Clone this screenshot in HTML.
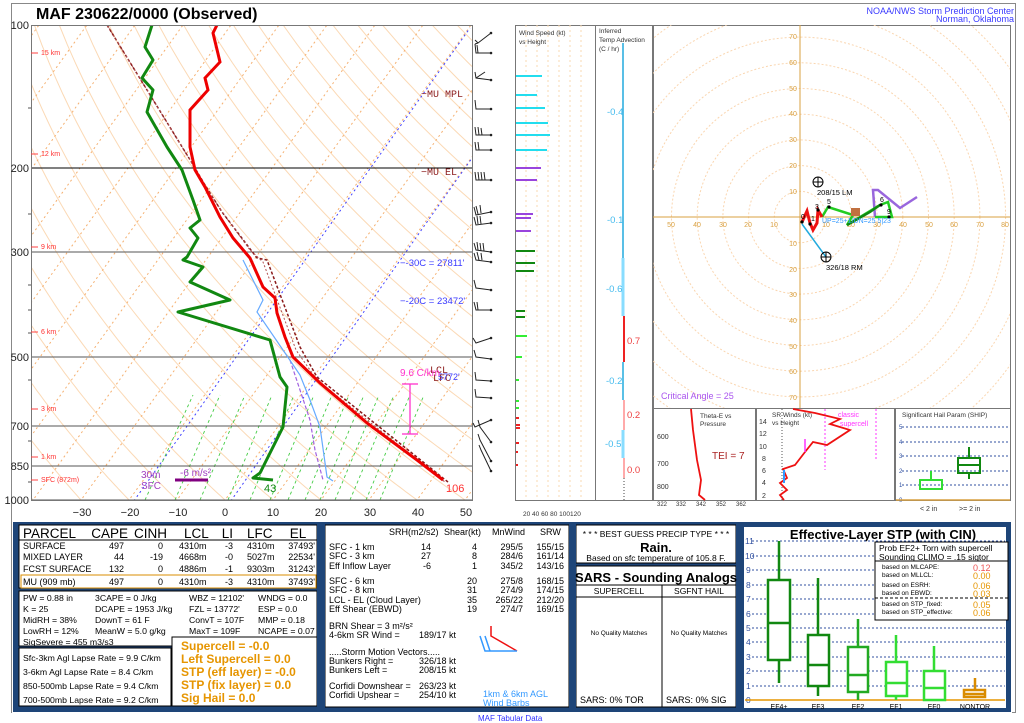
<!DOCTYPE html>
<html><head><meta charset="utf-8"><style>
html,body{margin:0;padding:0;background:#fff;width:1024px;height:723px;overflow:hidden}
svg{display:block;font-family:"Liberation Sans",Arial,sans-serif}
</style></head><body>
<svg id="s" width="1024" height="723" viewBox="0 0 1024 723" xmlns="http://www.w3.org/2000/svg">
<defs>
<clipPath id="skc"><rect x="31" y="25" width="441" height="475"/></clipPath>
<clipPath id="hc"><rect x="653" y="25" width="357" height="383"/></clipPath>
</defs>
<rect x="0" y="0" width="1024" height="723" fill="#fff"/>
<rect x="11.5" y="3.5" width="1004" height="709" fill="none" stroke="#888" stroke-width="1"/>
<text x="36" y="19" font-size="16" font-weight="bold">MAF   230622/0000  (Observed)</text>
<text x="1014" y="14" font-size="9" fill="#3a3aff" text-anchor="end">NOAA/NWS Storm Prediction Center</text>
<text x="1014" y="22" font-size="9" fill="#3a3aff" text-anchor="end">Norman, Oklahoma</text>

<g id="skbg" clip-path="url(#skc)"></g>
<g clip-path="url(#skc)" fill="none">
<line x1="131" y1="505" x2="470" y2="28" stroke="#4040ff" stroke-dasharray="2,3"/>
<line x1="228" y1="505" x2="472" y2="158" stroke="#4040ff" stroke-dasharray="2,3"/>
<g stroke="#44cc44" stroke-dasharray="3,3" stroke-width="0.9">
<line x1="145" y1="500" x2="193" y2="395"/><line x1="175" y1="500" x2="220" y2="395"/>
<line x1="200" y1="500" x2="245" y2="395"/><line x1="228" y1="500" x2="272" y2="395"/>
<line x1="250" y1="500" x2="294" y2="395"/><line x1="270" y1="500" x2="314" y2="395"/>
<line x1="288" y1="500" x2="332" y2="395"/><line x1="305" y1="500" x2="349" y2="395"/>
<line x1="320" y1="500" x2="364" y2="395"/><line x1="335" y1="500" x2="379" y2="395"/>
<line x1="350" y1="500" x2="394" y2="395"/><line x1="366" y1="500" x2="410" y2="395"/>
<line x1="380" y1="500" x2="424" y2="395"/>
</g>
<g stroke="#000" stroke-width="1">
<line x1="31" y1="168" x2="472" y2="168"/><line x1="31" y1="252" x2="472" y2="252" stroke="#555"/>
<line x1="31" y1="357" x2="472" y2="357" stroke="#555"/><line x1="31" y1="426" x2="472" y2="426" stroke="#555"/>
<line x1="31" y1="466" x2="472" y2="466" stroke="#555"/><line x1="31" y1="500" x2="472" y2="500" stroke="#555"/>
</g>
<polyline points="107,25 192,163 205,185 222,212 257,258 267,260 300,347 317,377 448,482" stroke="#8b1a1a" stroke-width="1.5" stroke-dasharray="3,2"/>
<polyline points="107,25 190,160 205,186 225,216 250,250 263,262 296,350 317,380 445,482" stroke="#b05050" stroke-width="1" stroke-dasharray="2,2"/>
<polyline points="290,360 300,390 310,420 315,450 323,480" stroke="#a060e0" stroke-width="1.2" stroke-dasharray="4,2"/>
<polyline points="243,260 263,300 257,312 283,350 300,375 310,400 320,427 327,477 333,481" stroke="#66aaff" stroke-width="1.2"/>
<polyline points="217,25 213,33 220,62 205,78 208,90 190,110 190,127 190,147 195,170 205,187 220,217 233,238 250,258 263,287 275,298 277,313 285,337 293,357 320,383 367,423 417,460 443,480" stroke="#3060ff" stroke-width="1"/>
<polyline points="217,25 213,33 220,62 205,78 208,90 190,110 190,127 190,147 195,170 205,187 220,217 233,238 250,258 263,287 275,298 277,313 285,337 293,357 320,383 367,423 417,460 443,480" stroke="#ee0000" stroke-width="3"/>
<polyline points="152,25 145,47 153,60 142,78 153,90 147,112 167,147 182,170 193,200 200,220 190,228 198,238 187,257 183,260 203,267 190,282 230,300 178,312 270,340 280,377 287,387 283,427 260,473 253,478 273,480" stroke="#118811" stroke-width="3" stroke-linejoin="round"/>
</g>
<rect x="31.5" y="25.5" width="441" height="475" fill="none" stroke="#777"/>
<g font-size="11" text-anchor="end" fill="#222">
<text x="29" y="29">100</text><text x="29" y="172">200</text><text x="29" y="256">300</text>
<text x="29" y="361">500</text><text x="29" y="430">700</text><text x="29" y="470">850</text><text x="29" y="504">1000</text>
</g>
<g stroke="#555"><line x1="28" y1="108" x2="31" y2="108"/><line x1="28" y1="214" x2="31" y2="214"/><line x1="28" y1="285" x2="31" y2="285"/><line x1="28" y1="310" x2="31" y2="310"/><line x1="28" y1="333" x2="31" y2="333"/><line x1="28" y1="380" x2="31" y2="380"/><line x1="28" y1="441" x2="31" y2="441"/><line x1="28" y1="482" x2="31" y2="482"/></g>
<g font-size="11" text-anchor="middle" fill="#222">
<text x="82" y="516">−30</text><text x="130" y="516">−20</text><text x="178" y="516">−10</text><text x="225" y="516">0</text>
<text x="273" y="516">10</text><text x="321" y="516">20</text><text x="370" y="516">30</text><text x="418" y="516">40</text><text x="466" y="516">50</text>
</g>
<g font-size="7" fill="#ff3030">
<line x1="31" y1="53" x2="38" y2="53" stroke="#ff4040"/><text x="41" y="55">15 km</text>
<line x1="31" y1="154" x2="38" y2="154" stroke="#ff4040"/><text x="41" y="156">12 km</text>
<line x1="31" y1="247" x2="38" y2="247" stroke="#ff4040"/><text x="41" y="249">9 km</text>
<line x1="31" y1="332" x2="38" y2="332" stroke="#ff4040"/><text x="41" y="334">6 km</text>
<line x1="31" y1="409" x2="38" y2="409" stroke="#ff4040"/><text x="41" y="411">3 km</text>
<line x1="31" y1="457" x2="38" y2="457" stroke="#ff4040"/><text x="41" y="459">1 km</text>
<line x1="31" y1="480" x2="38" y2="480" stroke="#ff4040"/><text x="41" y="482">SFC (872m)</text>
</g>
<g font-family="Liberation Mono,monospace" font-size="10" fill="#8b1a1a">
<text x="421" y="97">−MU MPL</text><text x="421" y="175">−MU EL</text><text x="430" y="373">LCL</text><text x="433" y="381">LFC</text>
</g>
<g font-size="9.5" fill="#3a3aff"><text x="400" y="266">−-30C = 27811'</text><text x="400" y="304">−-20C = 23472'</text><text x="438" y="380" font-size="9">5772'</text></g>
<text x="400" y="376" font-size="10" fill="#ff33cc">9.6 C/km</text>
<g stroke="#ff33cc" stroke-width="1.3"><line x1="410" y1="384" x2="410" y2="434"/><line x1="402" y1="384" x2="418" y2="384"/><line x1="402" y1="434" x2="418" y2="434"/></g>
<text x="141" y="478" font-size="10" fill="#a040c0">30m</text><text x="141" y="489" font-size="10" fill="#a040c0">SFC</text>
<text x="180" y="476" font-size="10" fill="#a040c0">-6 m/s²</text>
<line x1="175" y1="480" x2="208" y2="480" stroke="#800080" stroke-width="3"/>
<text x="264" y="492" font-size="11" fill="#118811">43</text>
<text x="446" y="492" font-size="11" fill="#ff3030">106</text>

<g stroke="#222" stroke-width="1" fill="none">
<path d="M491,33 L478,43 L475,40 M478,43 L475,44"/><path d="M491,53 L476,53 L475,44 M478,53 L477,45"/>
<path d="M491,80 L476,78 L475,72 M476,78 L485,72"/><path d="M491,109 L476,109 L475,100"/>
<path d="M491,135 L476,135 L475,127 M479,135 L478,127 M482,135 L481,128"/><path d="M491,150 L476,150 L475,142 M479,150 L478,142"/>
<path d="M491,180 L476,180 L475,172 M479,180 L478,172 M482,180 L481,172 M485,180 L484,172"/>
<path d="M491,212 L476,215 L474,207 M478,214 L476,206 M481,213 L480,205"/><path d="M491,223 L476,225 L474,217 M478,224 L477,216 M481,224 L480,216"/>
<path d="M491,252 L476,250 L474,243 M478,250 L477,242 M481,251 L480,243 M484,251 L483,243"/>
<path d="M491,262 L476,260 L474,253 M479,260 L477,252 M482,260 L481,253"/>
<path d="M491,290 L476,288 L474,280"/><path d="M491,310 L476,310 L474,302 M478,310 L477,302"/>
<path d="M491,338 L476,343 L473,338"/><path d="M491,359 L476,357 L474,350"/>
<path d="M491,381 L476,380 L475,372"/><path d="M491,398 L476,397 L475,389"/>
<path d="M491,420 L475,427 L473,423"/><path d="M491,442 L480,427 L478,420"/>
<path d="M491,461 L480,440 L478,434"/><path d="M491,471 L481,450 L479,445"/>
</g>
<g fill="#222"><circle cx="491" cy="33" r="1.3"/><circle cx="491" cy="53" r="1.3"/><circle cx="491" cy="80" r="1.3"/><circle cx="491" cy="109" r="1.3"/><circle cx="491" cy="135" r="1.3"/><circle cx="491" cy="150" r="1.3"/><circle cx="491" cy="180" r="1.3"/><circle cx="491" cy="212" r="1.3"/><circle cx="491" cy="223" r="1.3"/><circle cx="491" cy="252" r="1.3"/><circle cx="491" cy="262" r="1.3"/><circle cx="491" cy="290" r="1.3"/><circle cx="491" cy="310" r="1.3"/><circle cx="491" cy="338" r="1.3"/><circle cx="491" cy="359" r="1.3"/><circle cx="491" cy="381" r="1.3"/><circle cx="491" cy="398" r="1.3"/><circle cx="491" cy="420" r="1.3"/><circle cx="491" cy="442" r="1.3"/><circle cx="491" cy="461" r="1.3"/><circle cx="491" cy="471" r="1.3"/></g>

<rect x="515.5" y="25.5" width="80" height="475" fill="none" stroke="#777"/>
<g stroke="#f8d8b0" stroke-dasharray="2,3"><line x1="526" y1="25" x2="526" y2="500"/><line x1="537" y1="25" x2="537" y2="500"/><line x1="548" y1="25" x2="548" y2="500"/><line x1="559" y1="25" x2="559" y2="500"/><line x1="570" y1="25" x2="570" y2="500"/><line x1="581" y1="25" x2="581" y2="500"/></g>
<text x="519" y="35" font-size="6.5" fill="#333">Wind Speed (kt)</text><text x="519" y="44" font-size="6.5" fill="#333">vs Height</text>
<g stroke-width="2">
<g stroke="#22ddee"><line x1="516" y1="76" x2="542" y2="76"/><line x1="516" y1="95" x2="537" y2="95"/><line x1="516" y1="108" x2="545" y2="108"/><line x1="516" y1="123" x2="548" y2="123"/><line x1="516" y1="135" x2="550" y2="135"/><line x1="516" y1="150" x2="547" y2="150"/></g>
<g stroke="#9944dd"><line x1="516" y1="168" x2="541" y2="168"/><line x1="516" y1="180" x2="537" y2="180"/><line x1="516" y1="214" x2="533" y2="214"/><line x1="516" y1="218" x2="531" y2="218"/><line x1="516" y1="231" x2="531" y2="231"/></g>
<g stroke="#118811"><line x1="516" y1="251" x2="535" y2="251"/><line x1="516" y1="263" x2="535" y2="263"/><line x1="516" y1="271" x2="534" y2="271"/><line x1="516" y1="311" x2="525" y2="311"/><line x1="516" y1="317" x2="525" y2="317"/></g>
<g stroke="#33ee33"><line x1="516" y1="336" x2="527" y2="336"/><line x1="516" y1="357" x2="522" y2="357"/><line x1="516" y1="380" x2="519" y2="380"/><line x1="516" y1="401" x2="519" y2="401"/><line x1="516" y1="408" x2="519" y2="408"/></g>
<g stroke="#ee2222"><line x1="516" y1="418" x2="519" y2="418"/><line x1="516" y1="425" x2="520" y2="425"/><line x1="516" y1="428" x2="520" y2="428"/><line x1="516" y1="443" x2="519" y2="443"/><line x1="516" y1="452" x2="518" y2="452"/><line x1="516" y1="465" x2="518" y2="465"/></g>
</g>
<g font-size="6.5" fill="#333"><text x="523" y="516">20 40 60 80 100120</text></g>
<rect x="595.5" y="25.5" width="57" height="475" fill="none" stroke="#777"/>
<text x="599" y="33" font-size="6.5" fill="#333">Inferred</text><text x="599" y="42" font-size="6.5" fill="#333">Temp Advection</text><text x="599" y="51" font-size="6.5" fill="#333">(C / hr)</text>
<line x1="623" y1="43" x2="623" y2="258" stroke="#22aadd" stroke-width="1.5"/>
<line x1="623" y1="258" x2="623" y2="316" stroke="#88ddff" stroke-width="3"/>
<line x1="624" y1="316" x2="624" y2="362" stroke="#ee2222" stroke-width="2"/>
<line x1="623" y1="362" x2="623" y2="400" stroke="#22aadd" stroke-width="1.5"/>
<line x1="624" y1="400" x2="624" y2="430" stroke="#ffaaaa" stroke-width="2"/>
<line x1="623" y1="430" x2="623" y2="458" stroke="#88ddff" stroke-width="3"/>
<line x1="624" y1="458" x2="624" y2="478" stroke="#ffaaaa" stroke-width="2"/>
<line x1="624" y1="478" x2="624" y2="500" stroke="#444" stroke-dasharray="1,2"/>
<g font-size="9.5"><text x="607" y="115" fill="#44bbee">-0.4</text><text x="607" y="223" fill="#44bbee">-0.1</text><text x="606" y="292" fill="#44bbee">-0.6</text><text x="627" y="344" fill="#ee4444">0.7</text><text x="606" y="384" fill="#44bbee">-0.2</text><text x="627" y="418" fill="#ee4444">0.2</text><text x="605" y="447" fill="#44bbee">-0.5</text><text x="627" y="473" fill="#ee4444">0.0</text></g>

<rect x="653.5" y="25.5" width="357" height="475" fill="none" stroke="#777"/>
<g clip-path="url(#hc)" fill="none" stroke="#fad6b0" stroke-dasharray="2,2">
<circle cx="800" cy="217" r="25.7"/><circle cx="800" cy="217" r="51.4"/><circle cx="800" cy="217" r="77.1"/><circle cx="800" cy="217" r="102.8"/><circle cx="800" cy="217" r="128.5"/><circle cx="800" cy="217" r="154.2"/><circle cx="800" cy="217" r="179.9"/><circle cx="800" cy="217" r="205.6"/><circle cx="800" cy="217" r="231.3"/><circle cx="800" cy="217" r="257"/>
</g>
<g stroke="#d9a040"><line x1="800" y1="25" x2="800" y2="408"/><line x1="653" y1="217" x2="1010" y2="217"/></g>
<g font-size="7" fill="#d9a040" text-anchor="middle">
<text x="671" y="227">50</text><text x="697" y="227">40</text><text x="723" y="227">30</text><text x="748" y="227">20</text><text x="774" y="227">10</text>
<text x="826" y="227">10</text><text x="851" y="227">20</text><text x="877" y="227">30</text><text x="903" y="227">40</text><text x="929" y="227">50</text><text x="954" y="227">60</text><text x="980" y="227">70</text><text x="1005" y="227">80</text>
<text x="793" y="39">70</text><text x="793" y="65">60</text><text x="793" y="91">50</text><text x="793" y="116">40</text><text x="793" y="142">30</text><text x="793" y="168">20</text><text x="793" y="194">10</text>
<text x="793" y="246">10</text><text x="793" y="272">20</text><text x="793" y="297">30</text><text x="793" y="323">40</text><text x="793" y="349">50</text><text x="793" y="374">60</text><text x="793" y="400">70</text>
</g>
<line x1="802" y1="224" x2="826" y2="257" stroke="#22aadd" stroke-width="1.5"/>
<polyline points="875,217 873,190 878,190 900,208 917,197" fill="none" stroke="#9966dd" stroke-width="2.5"/>
<polyline points="822,217 828,207 853,215 847,225 880,205 888,202 892,217 875,217" fill="none" stroke="#22cc22" stroke-width="2.5"/>
<polyline points="847,225 870,212 880,205" fill="none" stroke="#118811" stroke-width="2.5"/>
<polyline points="802,222 807,211 810,223 813,230 817,223 818,210 822,217" fill="none" stroke="#ee1111" stroke-width="3"/>
<rect x="851" y="208" width="9" height="8" fill="#c07040"/>
<g fill="#000"><circle cx="818" cy="210" r="1.6"/><circle cx="829" cy="207" r="1.6"/><circle cx="810" cy="224" r="1.6"/><circle cx="881" cy="205" r="1.6"/><circle cx="889" cy="217" r="1.6"/><circle cx="802" cy="222" r="1.6"/></g>
<g font-size="7" fill="#000"><text x="801" y="219">0</text><text x="811" y="221">1</text><text x="815" y="209">3</text><text x="827" y="204">5</text><text x="880" y="202">6</text><text x="887" y="214">9</text></g>
<text x="822" y="223" font-size="7" fill="#3399ff">UP=25+1/DN=25 5|23</text>
<g fill="none" stroke="#000"><circle cx="818" cy="182" r="5"/><line x1="813" y1="182" x2="823" y2="182"/><line x1="818" y1="177" x2="818" y2="187"/><circle cx="826" cy="257" r="5"/><line x1="821" y1="257" x2="831" y2="257"/><line x1="826" y1="252" x2="826" y2="262"/></g>
<text x="817" y="195" font-size="7.5" fill="#000">208/15 LM</text><text x="826" y="270" font-size="7.5" fill="#000">326/18 RM</text>
<text x="661" y="399" font-size="9" fill="#aa55ee">Critical Angle = 25</text>

<rect x="653" y="408" width="357" height="93" fill="#fff"/>
<rect x="653.5" y="408.5" width="102" height="92" fill="none" stroke="#777"/>
<rect x="756.5" y="408.5" width="138" height="92" fill="none" stroke="#777"/>
<rect x="895.5" y="408.5" width="115" height="92" fill="none" stroke="#777"/>
<text x="700" y="418" font-size="6.5" fill="#333">Theta-E vs</text><text x="700" y="426" font-size="6.5" fill="#333">Pressure</text>
<polyline points="691,409 693,430 697,460 701,480 699,495 705,500" fill="none" stroke="#ee1111" stroke-width="1.8"/>
<text x="712" y="459" font-size="10" fill="#aa2222">TEI = 7</text>
<g font-size="7" fill="#333"><text x="657" y="439">600</text><text x="657" y="466">700</text><text x="657" y="489">800</text></g>
<g font-size="6" fill="#333"><text x="657" y="506">322</text><text x="676" y="506">332</text><text x="696" y="506">342</text><text x="716" y="506">352</text><text x="736" y="506">362</text></g>
<text x="772" y="417" font-size="6.5" fill="#333">SR Winds (kt)</text><text x="772" y="425" font-size="6.5" fill="#333">vs Height</text>
<g font-size="7" fill="#333"><text x="759" y="424">14</text><text x="759" y="436">12</text><text x="759" y="449">10</text><text x="762" y="461">8</text><text x="762" y="473">6</text><text x="762" y="485">4</text><text x="762" y="498">2</text></g>
<line x1="782" y1="409" x2="782" y2="500" stroke="#555" stroke-dasharray="1,2"/>
<line x1="825" y1="409" x2="825" y2="470" stroke="#ff33ff" stroke-dasharray="2,2"/><line x1="876" y1="409" x2="876" y2="460" stroke="#ff33ff" stroke-dasharray="2,2"/>
<text x="838" y="417" font-size="7" fill="#ff33ff">classic</text><text x="840" y="426" font-size="7" fill="#ff33ff">supercell</text>
<polyline points="793,409 815,413 840,419 830,424 850,430 827,445 813,442 805,452 795,465 783,469 787,478 780,483 787,490 780,495 784,500" fill="none" stroke="#ee1111" stroke-width="1.8"/>
<line x1="784" y1="470" x2="784" y2="483" stroke="#3399ff" stroke-width="2"/>
<line x1="805" y1="439" x2="805" y2="452" stroke="#ff33ff" stroke-width="1.5"/>
<text x="902" y="417" font-size="6.5" fill="#333">Significant Hail Param (SHIP)</text>
<g stroke="#3050a0" stroke-dasharray="2,2"><line x1="902" y1="427" x2="1010" y2="427"/><line x1="902" y1="442" x2="1010" y2="442"/><line x1="902" y1="456" x2="1010" y2="456"/><line x1="902" y1="471" x2="1010" y2="471"/><line x1="902" y1="485" x2="1010" y2="485"/></g>
<g font-size="6" fill="#3050a0"><text x="899" y="429">5</text><text x="899" y="444">4</text><text x="899" y="458">3</text><text x="899" y="473">2</text><text x="899" y="487">1</text><text x="899" y="502">0</text></g>
<line x1="896" y1="500" x2="1010" y2="500" stroke="#d9a040" stroke-width="1.5"/>
<g fill="none" stroke-width="2"><rect x="920" y="480" width="22" height="9" stroke="#33dd33"/><line x1="931" y1="471" x2="931" y2="480" stroke="#33dd33"/>
<rect x="958" y="458" width="22" height="15" stroke="#118811"/><line x1="969" y1="447" x2="969" y2="458" stroke="#118811"/><line x1="969" y1="473" x2="969" y2="479" stroke="#118811"/><line x1="958" y1="465" x2="980" y2="465" stroke="#118811"/></g>
<g font-size="7" fill="#333"><text x="920" y="511">&lt; 2 in</text><text x="959" y="511">&gt;= 2 in</text></g>

<!-- bottom tables -->
<rect x="13" y="522" width="998" height="190" fill="#1e4578"/>
<rect x="19" y="525" width="298" height="63" fill="#fff" stroke="#000"/>
<rect x="19" y="591" width="298" height="55" fill="#fff" stroke="#000"/>
<rect x="19" y="648" width="152" height="58" fill="#fff" stroke="#000"/>
<rect x="172" y="637" width="145" height="69" fill="#fff" stroke="#000"/>
<rect x="325" y="525" width="244" height="182" fill="#fff" stroke="#000"/>
<rect x="576" y="525" width="160" height="38" fill="#fff" stroke="#000"/>
<rect x="576" y="566" width="160" height="141" fill="#fff" stroke="#000"/>
<rect x="744" y="527" width="262" height="181" fill="#fff"/>
<rect x="317" y="522" width="8" height="190" fill="#1e4578"/>
<rect x="569" y="522" width="7" height="190" fill="#1e4578"/>
<rect x="736" y="522" width="8" height="190" fill="#1e4578"/>
<rect x="12" y="712" width="1000" height="11" fill="#fff"/>
<line x1="19" y1="540" x2="317" y2="540" stroke="#000"/>

<g font-size="13.5" fill="#000"><text x="23" y="538">PARCEL</text><text x="128" y="538" text-anchor="end">CAPE</text><text x="167" y="538" text-anchor="end">CINH</text><text x="184" y="538">LCL</text><text x="233" y="538" text-anchor="end">LI</text><text x="247" y="538">LFC</text><text x="298" y="538" text-anchor="middle">EL</text></g>
<g font-size="9" fill="#000">
<text x="23" y="549">SURFACE</text><text x="124" y="549" text-anchor="end">497</text><text x="163" y="549" text-anchor="end">0</text><text x="179" y="549">4310m</text><text x="233" y="549" text-anchor="end">-3</text><text x="247" y="549">4310m</text><text x="315" y="549" text-anchor="end">37493'</text>
<text x="23" y="560">MIXED LAYER</text><text x="124" y="560" text-anchor="end">44</text><text x="163" y="560" text-anchor="end">-19</text><text x="179" y="560">4668m</text><text x="233" y="560" text-anchor="end">-0</text><text x="247" y="560">5027m</text><text x="315" y="560" text-anchor="end">22534'</text>
<text x="23" y="572">FCST SURFACE</text><text x="124" y="572" text-anchor="end">132</text><text x="163" y="572" text-anchor="end">0</text><text x="179" y="572">4886m</text><text x="233" y="572" text-anchor="end">-1</text><text x="247" y="572">9303m</text><text x="315" y="572" text-anchor="end">31243'</text>
<text x="23" y="585">MU   (909 mb)</text><text x="124" y="585" text-anchor="end">497</text><text x="163" y="585" text-anchor="end">0</text><text x="179" y="585">4310m</text><text x="233" y="585" text-anchor="end">-3</text><text x="247" y="585">4310m</text><text x="315" y="585" text-anchor="end">37493'</text>
</g>
<rect x="21" y="575" width="295" height="13" fill="none" stroke="#d98c00"/>
<g font-size="8.7" fill="#000">
<text x="23" y="601">PW = 0.88 in</text><text x="95" y="601">3CAPE = 0 J/kg</text><text x="189" y="601">WBZ = 12102'</text><text x="258" y="601">WNDG = 0.0</text>
<text x="23" y="612">K = 25</text><text x="95" y="612">DCAPE = 1953 J/kg</text><text x="189" y="612">FZL = 13772'</text><text x="258" y="612">ESP = 0.0</text>
<text x="23" y="623">MidRH = 38%</text><text x="95" y="623">DownT = 61 F</text><text x="189" y="623">ConvT = 107F</text><text x="258" y="623">MMP = 0.18</text>
<text x="23" y="634">LowRH = 12%</text><text x="95" y="634">MeanW = 5.0 g/kg</text><text x="189" y="634">MaxT = 109F</text><text x="258" y="634">NCAPE = 0.07</text>
<text x="23" y="645">SigSevere = 455 m3/s3</text>
<text x="23" y="661">Sfc-3km Agl Lapse Rate =  9.9 C/km</text>
<text x="23" y="675">3-6km Agl Lapse Rate =    8.4 C/km</text>
<text x="23" y="689">850-500mb Lapse Rate =  9.4 C/km</text>
<text x="23" y="703">700-500mb Lapse Rate =  9.2 C/km</text>
</g>
<g font-size="12" font-weight="bold" fill="#e69500">
<text x="181" y="650">Supercell = -0.0</text><text x="181" y="663">Left Supercell = 0.0</text><text x="181" y="676">STP (eff layer) = -0.0</text><text x="181" y="689">STP (fix layer) = 0.0</text><text x="181" y="702">Sig Hail = 0.0</text>
</g>
<g font-size="9" fill="#000">
<text x="389" y="535">SRH(m2/s2)</text><text x="444" y="535">Shear(kt)</text><text x="492" y="535">MnWind</text><text x="540" y="535">SRW</text>
<text x="329" y="550">SFC - 1 km</text><text x="431" y="550" text-anchor="end">14</text><text x="477" y="550" text-anchor="end">4</text><text x="523" y="550" text-anchor="end">295/5</text><text x="564" y="550" text-anchor="end">155/15</text>
<text x="329" y="559">SFC - 3 km</text><text x="431" y="559" text-anchor="end">27</text><text x="477" y="559" text-anchor="end">8</text><text x="523" y="559" text-anchor="end">284/6</text><text x="564" y="559" text-anchor="end">161/14</text>
<text x="329" y="569">Eff Inflow Layer</text><text x="431" y="569" text-anchor="end">-6</text><text x="477" y="569" text-anchor="end">1</text><text x="523" y="569" text-anchor="end">345/2</text><text x="564" y="569" text-anchor="end">143/16</text>
<text x="329" y="584">SFC - 6 km</text><text x="477" y="584" text-anchor="end">20</text><text x="523" y="584" text-anchor="end">275/8</text><text x="564" y="584" text-anchor="end">168/15</text>
<text x="329" y="593">SFC - 8 km</text><text x="477" y="593" text-anchor="end">31</text><text x="523" y="593" text-anchor="end">274/9</text><text x="564" y="593" text-anchor="end">174/15</text>
<text x="329" y="603">LCL - EL (Cloud Layer)</text><text x="477" y="603" text-anchor="end">35</text><text x="523" y="603" text-anchor="end">265/22</text><text x="564" y="603" text-anchor="end">212/20</text>
<text x="329" y="612">Eff Shear (EBWD)</text><text x="477" y="612" text-anchor="end">19</text><text x="523" y="612" text-anchor="end">274/7</text><text x="564" y="612" text-anchor="end">169/15</text>
<text x="329" y="629">BRN Shear =  3 m²/s²</text>
<text x="329" y="638">4-6km SR Wind =</text><text x="419" y="638">189/17 kt</text>
<text x="329" y="655">.....Storm Motion Vectors.....</text>
<text x="329" y="664">Bunkers Right =</text><text x="419" y="664">326/18 kt</text>
<text x="329" y="673">Bunkers Left =</text><text x="419" y="673">208/15 kt</text>
<text x="329" y="689">Corfidi Downshear =</text><text x="419" y="689">263/23 kt</text>
<text x="329" y="698">Corfidi Upshear =</text><text x="419" y="698">254/10 kt</text>
</g>
<g fill="none" stroke-width="1.5"><polyline points="491,626 491,636 517,651" stroke="#ee1111"/><polyline points="480,636 485,651 517,651" stroke="#3399ff"/><line x1="485" y1="636" x2="490" y2="651" stroke="#3399ff"/></g>
<text x="483" y="697" font-size="9" fill="#3399ff">1km &amp; 6km AGL</text><text x="483" y="706" font-size="9" fill="#3399ff">Wind Barbs</text>
<text x="478" y="721" font-size="8" fill="#3030ff">MAF Tabular Data</text>
<g font-size="9" fill="#000" text-anchor="middle">
<text x="656" y="537" font-size="8.5">* * * BEST GUESS PRECIP TYPE * * *</text>
<text x="656" y="552" font-size="13" font-weight="bold">Rain.</text>
<text x="656" y="561" font-size="8.5">Based on sfc temperature of 105.8 F.</text>
<text x="656" y="582" font-size="13" font-weight="bold">SARS - Sounding Analogs</text>
<text x="619" y="594" font-size="8.5">SUPERCELL</text><text x="699" y="594" font-size="8.5">SGFNT HAIL</text>
<text x="619" y="635" font-size="6.5">No Quality Matches</text><text x="699" y="635" font-size="6.5">No Quality Matches</text>
</g>
<line x1="576" y1="585" x2="736" y2="585" stroke="#000"/><line x1="576" y1="597" x2="736" y2="597" stroke="#000"/><line x1="662" y1="585" x2="662" y2="707" stroke="#000"/>
<text x="580" y="703" font-size="9">SARS:  0% TOR</text><text x="666" y="703" font-size="9">SARS:  0% SIG</text>

<text x="883" y="539" font-size="13" font-weight="bold" text-anchor="middle">Effective-Layer STP (with CIN)</text>
<g stroke="#3050a0" stroke-dasharray="2,2"><line x1="752" y1="541" x2="1005" y2="541"/><line x1="752" y1="556" x2="1005" y2="556"/><line x1="752" y1="570" x2="1005" y2="570"/><line x1="752" y1="585" x2="1005" y2="585"/><line x1="752" y1="599" x2="1005" y2="599"/><line x1="752" y1="614" x2="1005" y2="614"/><line x1="752" y1="628" x2="1005" y2="628"/><line x1="752" y1="642" x2="1005" y2="642"/><line x1="752" y1="657" x2="1005" y2="657"/><line x1="752" y1="671" x2="1005" y2="671"/><line x1="752" y1="686" x2="1005" y2="686"/></g>
<g font-size="8.5" fill="#3050a0"><text x="745" y="544">11</text><text x="745" y="559">10</text><text x="746" y="573">9</text><text x="746" y="588">8</text><text x="746" y="602">7</text><text x="746" y="617">6</text><text x="746" y="631">5</text><text x="746" y="645">4</text><text x="746" y="660">3</text><text x="746" y="674">2</text><text x="746" y="689">1</text><text x="746" y="703">0</text></g>
<line x1="745" y1="700" x2="1005" y2="700" stroke="#e69500" stroke-width="1.5"/>
<g fill="none" stroke-width="2.5">
<g stroke="#118811"><line x1="779" y1="541" x2="779" y2="683"/><rect x="768" y="580" width="22" height="80" fill="#fff"/><line x1="768" y1="623" x2="790" y2="623"/>
<line x1="818" y1="578" x2="818" y2="696"/><rect x="808" y="635" width="21" height="51" fill="#fff"/><line x1="808" y1="665" x2="829" y2="665"/></g>
<g stroke="#22aa22"><line x1="858" y1="619" x2="858" y2="700"/><rect x="848" y="647" width="20" height="45" fill="#fff"/><line x1="848" y1="675" x2="868" y2="675"/></g>
<g stroke="#33dd33"><line x1="896" y1="635" x2="896" y2="700"/><rect x="886" y="662" width="21" height="34" fill="#fff"/><line x1="886" y1="683" x2="907" y2="683"/>
<line x1="934" y1="646" x2="934" y2="700"/><rect x="924" y="671" width="21" height="29" fill="#fff"/><line x1="924" y1="688" x2="945" y2="688"/></g>
<g stroke="#d98c00"><line x1="975" y1="678" x2="975" y2="697"/><rect x="964" y="690" width="21" height="7" fill="#fff"/><line x1="964" y1="694" x2="985" y2="694"/></g>
</g>
<g font-size="7" fill="#000" text-anchor="middle"><text x="779" y="709">EF4+</text><text x="818" y="709">EF3</text><text x="858" y="709">EF2</text><text x="896" y="709">EF1</text><text x="934" y="709">EF0</text><text x="975" y="709">NONTOR</text></g>
<rect x="875" y="542" width="133" height="78" fill="#fff" stroke="#000"/>
<line x1="875" y1="561" x2="1008" y2="561" stroke="#000"/><line x1="875" y1="598" x2="1008" y2="598" stroke="#000" stroke-dasharray="3,2"/>
<text x="879" y="551" font-size="8.5">Prob EF2+ Torn with supercell</text><text x="879" y="560" font-size="8.5">Sounding CLIMO = .15 sigtor</text>
<g font-size="6.5" fill="#000"><text x="882" y="569">based on MLCAPE:</text><text x="882" y="577">based on MLLCL:</text><text x="882" y="587">based on ESRH:</text><text x="882" y="595">based on EBWD:</text><text x="882" y="606">based on STP_fixed:</text><text x="882" y="614">based on STP_effective:</text></g>
<g font-size="9"><text x="973" y="571" fill="#ee5555">0.12</text><text x="973" y="579" fill="#e69500">0.00</text><text x="973" y="589" fill="#e69500">0.06</text><text x="973" y="597" fill="#e69500">0.03</text><text x="973" y="608" fill="#e69500">0.05</text><text x="973" y="616" fill="#e69500">0.06</text></g>
</svg>
<script>
(function(){
var NS="http://www.w3.org/2000/svg",g=document.getElementById("skbg");
function Y(p){return 25+475*(Math.log10(p)-2);}
function X(T,p){return 225+4.8*T+0.72*(500-Y(p));}
function pl(pts,col,dash,w){var e=document.createElementNS(NS,"polyline");e.setAttribute("points",pts.join(" "));e.setAttribute("fill","none");e.setAttribute("stroke",col);e.setAttribute("stroke-width",w||1);if(dash)e.setAttribute("stroke-dasharray",dash);g.appendChild(e);}
for(var th=-40;th<=220;th+=10){var pts=[];for(var p=1050;p>=100;p-=10){var T=(th+273.15)*Math.pow(p/1000,0.2857)-273.15;pts.push(X(T,p).toFixed(1)+","+Y(p).toFixed(1));}pl(pts,"#fbd9b5",null,1);}
for(var t=-160;t<=50;t+=10){pl([X(t,1050).toFixed(1)+","+Y(1050).toFixed(1),X(t,100).toFixed(1)+","+Y(100).toFixed(1)],"#f5b070","2,3",1);}
})();
</script>
</body></html>
